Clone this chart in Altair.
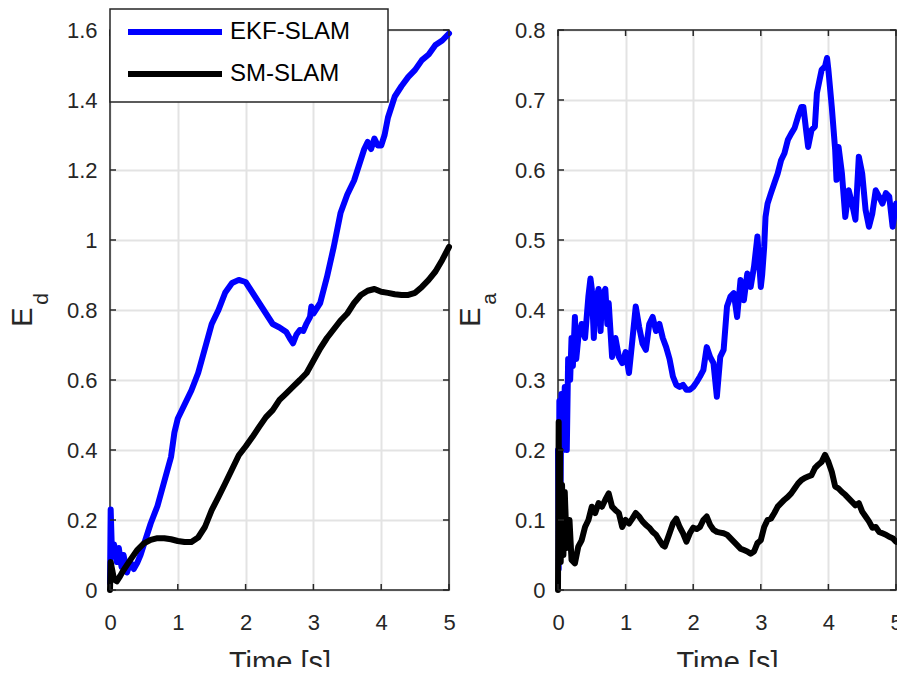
import altair as alt
import pandas as pd

# ---------------- data ----------------
series_names = ["EKF-SLAM", "SM-SLAM"]
series_colors = ["#0000ff", "#000000"]

# Left panel: E_d
t_ekf_d = [0.0, 0.01, 0.03, 0.06, 0.1, 0.13, 0.17, 0.2, 0.25, 0.3, 0.35, 0.4, 0.45,
           0.5, 0.6, 0.7, 0.8, 0.9, 0.95, 1.0, 1.1, 1.2, 1.3, 1.4, 1.5, 1.6, 1.7,
           1.8, 1.9, 2.0, 2.1, 2.2, 2.3, 2.4, 2.5, 2.6, 2.65, 2.7, 2.75, 2.8, 2.85,
           2.9, 2.95, 2.97, 3.0, 3.1, 3.2, 3.3, 3.4, 3.5, 3.6, 3.7, 3.75, 3.8, 3.85,
           3.9, 3.95, 4.0, 4.05, 4.1, 4.2, 4.3, 4.4, 4.5, 4.6, 4.7, 4.8, 4.9, 5.0]
ekf_d = [0.02, 0.23, 0.10, 0.13, 0.08, 0.12, 0.066, 0.10, 0.05, 0.08, 0.06, 0.077, 0.10,
         0.13, 0.19, 0.24, 0.31, 0.38, 0.45, 0.49, 0.53, 0.57, 0.62, 0.69, 0.76, 0.80, 0.85,
         0.877, 0.886, 0.88, 0.85, 0.82, 0.79, 0.76, 0.75, 0.737, 0.72, 0.705, 0.73, 0.743, 0.74,
         0.762, 0.78, 0.81, 0.79, 0.82, 0.894, 0.98, 1.077, 1.13, 1.17, 1.23, 1.26, 1.28, 1.26,
         1.29, 1.27, 1.27, 1.30, 1.35, 1.41, 1.44, 1.466, 1.486, 1.514, 1.53, 1.557, 1.57, 1.59]

t_sm_d = [0.0, 0.01, 0.03, 0.06, 0.1, 0.15, 0.2, 0.3, 0.4, 0.5, 0.6, 0.7, 0.8, 0.9,
          1.0, 1.1, 1.2, 1.3, 1.4, 1.5, 1.6, 1.7, 1.8, 1.9, 2.0, 2.1, 2.2, 2.3, 2.4,
          2.5, 2.6, 2.7, 2.8, 2.9, 3.0, 3.1, 3.2, 3.3, 3.4, 3.5, 3.6, 3.7, 3.8, 3.9,
          4.0, 4.1, 4.2, 4.3, 4.4, 4.5, 4.6, 4.7, 4.8, 4.9, 5.0]
sm_d = [0.0, 0.08, 0.06, 0.03, 0.025, 0.04, 0.057, 0.086, 0.114, 0.133, 0.143, 0.148, 0.148, 0.145,
        0.14, 0.137, 0.137, 0.15, 0.18, 0.228, 0.266, 0.305, 0.345, 0.385, 0.41, 0.437, 0.466, 0.494, 0.514,
        0.543, 0.562, 0.581, 0.60, 0.62, 0.655, 0.69, 0.72, 0.745, 0.77, 0.79, 0.82, 0.843, 0.855, 0.86,
        0.852, 0.849, 0.845, 0.843, 0.843, 0.849, 0.866, 0.886, 0.91, 0.943, 0.98]

# Right panel: E_a
t_ekf_a = [0.0, 0.01, 0.02, 0.03, 0.05, 0.07, 0.1, 0.13, 0.15, 0.18, 0.2, 0.22, 0.25, 0.27,
           0.3, 0.35, 0.4, 0.45, 0.48, 0.5, 0.53, 0.55, 0.6, 0.63, 0.65, 0.7, 0.73, 0.75,
           0.8, 0.85, 0.9, 0.95, 1.0, 1.05, 1.1, 1.15, 1.2, 1.25, 1.3, 1.35, 1.4, 1.45,
           1.5, 1.55, 1.6, 1.65, 1.7, 1.75, 1.8, 1.85, 1.9, 1.95, 2.0, 2.05, 2.1, 2.15,
           2.2, 2.25, 2.3, 2.35, 2.4, 2.45, 2.5, 2.55, 2.6, 2.65, 2.7, 2.75, 2.8, 2.85,
           2.9, 2.95, 3.0, 3.02, 3.05, 3.07, 3.1, 3.15, 3.2, 3.25, 3.3, 3.35, 3.4, 3.45,
           3.5, 3.55, 3.6, 3.63, 3.67, 3.7, 3.75, 3.8, 3.83, 3.87, 3.9, 3.95, 3.98, 4.0,
           4.05, 4.1, 4.12, 4.15, 4.2, 4.25, 4.3, 4.35, 4.4, 4.45, 4.5, 4.55, 4.6, 4.65,
           4.7, 4.75, 4.8, 4.85, 4.9, 4.95, 5.0]
ekf_a = [0.20, 0.03, 0.27, 0.05, 0.28, 0.20, 0.29, 0.20, 0.33, 0.30, 0.36, 0.32, 0.39, 0.33,
         0.36, 0.38, 0.36, 0.42, 0.445, 0.43, 0.36, 0.41, 0.43, 0.37, 0.42, 0.43, 0.38, 0.41,
         0.333, 0.36, 0.333, 0.324, 0.34, 0.31, 0.357, 0.405, 0.376, 0.352, 0.343, 0.38, 0.39, 0.37,
         0.38, 0.36, 0.347, 0.33, 0.305, 0.293, 0.29, 0.293, 0.286, 0.286, 0.29, 0.297, 0.305, 0.314,
         0.347, 0.333, 0.324, 0.276, 0.333, 0.343, 0.405, 0.419, 0.424, 0.39, 0.443, 0.414, 0.452, 0.433,
         0.462, 0.505, 0.433, 0.45, 0.49, 0.533, 0.552, 0.567, 0.581, 0.595, 0.614, 0.624, 0.643, 0.652,
         0.66, 0.676, 0.69, 0.69, 0.657, 0.633, 0.657, 0.662, 0.71, 0.729, 0.743, 0.748, 0.76, 0.743,
         0.69, 0.629, 0.586, 0.633, 0.595, 0.533, 0.571, 0.552, 0.529, 0.619, 0.595, 0.543, 0.519, 0.538,
         0.571, 0.562, 0.552, 0.567, 0.562, 0.519, 0.552]

t_sm_a = [0.0, 0.01, 0.02, 0.03, 0.04, 0.06, 0.08, 0.1, 0.13, 0.17, 0.2, 0.25, 0.3, 0.35,
          0.4, 0.45, 0.5, 0.55, 0.6, 0.65, 0.7, 0.75, 0.8, 0.85, 0.9, 0.95, 1.0, 1.05,
          1.1, 1.15, 1.2, 1.25, 1.3, 1.35, 1.4, 1.45, 1.5, 1.55, 1.58, 1.65, 1.7, 1.75,
          1.8, 1.85, 1.9, 1.95, 2.0, 2.05, 2.1, 2.15, 2.2, 2.25, 2.3, 2.35, 2.4, 2.45,
          2.5, 2.55, 2.6, 2.65, 2.7, 2.75, 2.8, 2.85, 2.9, 2.95, 3.0, 3.05, 3.1, 3.15,
          3.2, 3.25, 3.3, 3.35, 3.4, 3.45, 3.5, 3.55, 3.6, 3.65, 3.7, 3.75, 3.8, 3.85,
          3.9, 3.95, 4.0, 4.05, 4.1, 4.15, 4.2, 4.25, 4.3, 4.35, 4.4, 4.45, 4.5, 4.55,
          4.6, 4.65, 4.7, 4.75, 4.8, 4.85, 4.9, 4.95, 5.0]
sm_a = [0.0, 0.24, 0.05, 0.20, 0.04, 0.15, 0.05, 0.14, 0.06, 0.10, 0.043, 0.038, 0.062, 0.071,
        0.09, 0.10, 0.119, 0.11, 0.124, 0.119, 0.129, 0.138, 0.119, 0.114, 0.11, 0.09, 0.10, 0.095,
        0.102, 0.11, 0.105, 0.098, 0.093, 0.089, 0.083, 0.079, 0.071, 0.064, 0.062, 0.081, 0.095, 0.102,
        0.09, 0.081, 0.069, 0.081, 0.089, 0.087, 0.09, 0.10, 0.105, 0.093, 0.086, 0.083, 0.082, 0.081,
        0.079, 0.074, 0.069, 0.064, 0.059, 0.057, 0.055, 0.052, 0.055, 0.067, 0.071, 0.09, 0.10, 0.102,
        0.11, 0.119, 0.124, 0.129, 0.133, 0.138, 0.145, 0.152, 0.157, 0.16, 0.162, 0.164, 0.174, 0.179,
        0.183, 0.193, 0.183, 0.169, 0.148, 0.145, 0.14, 0.136, 0.131, 0.126, 0.121, 0.124, 0.112, 0.105,
        0.098, 0.089, 0.09, 0.083, 0.081, 0.079, 0.076, 0.074, 0.069]

x_ticks = [0, 1, 2, 3, 4, 5]
y_ticks_d = [0, 0.2, 0.4, 0.6, 0.8, 1.0, 1.2, 1.4, 1.6]
y_ticks_a = [0, 0.1, 0.2, 0.3, 0.4, 0.5, 0.6, 0.7, 0.8]

x_title = "Time [s]"
y_title_main = "E"
y_sub_d = "d"
y_sub_a = "a"

# ---------------- styling ----------------
FONT = "Liberation Sans"
DARK = "#262626"
GRID = "#e3e3e3"
H = 560
LINE_W = 6
W_LEFT = 339
W_RIGHT = 338
GAP = 109
PAD_L, PAD_T = 102, 22
CANVAS_W, CANVAS_H = 889, 658
CROP_Y = 637  # the reference picture is cut just below this (relative to the plot top)


def panel(t1, v1, t2, v2, yticks, ymax, sub, width, with_legend):
    xs = alt.Scale(domain=[0, 5], nice=False)
    ys = alt.Scale(domain=[0, ymax], nice=False)
    x_axis = alt.Axis(values=x_ticks, title=x_title, grid=True, gridColor=GRID, gridWidth=2,
                      domain=False, ticks=False, labelFontSize=22, labelFont=FONT,
                      labelColor=DARK, labelPadding=22, titleFontSize=29, titleFont=FONT,
                      titleFontWeight="normal", titleColor=DARK, titlePadding=15,
                      labelFlush=False, format="~g")
    y_axis = alt.Axis(values=yticks, title=None, grid=True, gridColor=GRID, gridWidth=2,
                      domain=False, ticks=False, labelFontSize=22, labelFont=FONT,
                      labelColor=DARK, labelPadding=13, format="~g", labelFlush=False)

    df1 = pd.DataFrame({"t": t1, "v": v1, "s": series_names[0]})
    df2 = pd.DataFrame({"t": t2, "v": v2, "s": series_names[1]})

    line1 = alt.Chart(df1).mark_line(strokeWidth=LINE_W, strokeJoin="round", strokeCap="round",
                                     color=series_colors[0]).encode(
        x=alt.X("t:Q", scale=xs, axis=x_axis), y=alt.Y("v:Q", scale=ys, axis=y_axis))
    line2 = alt.Chart(df2).mark_line(strokeWidth=LINE_W, strokeJoin="round", strokeCap="round",
                                     color=series_colors[1]).encode(
        x=alt.X("t:Q", scale=xs), y=alt.Y("v:Q", scale=ys))

    one = pd.DataFrame({"k": [0]})
    box = alt.Chart(one).mark_rect(fillOpacity=0, stroke=DARK, strokeWidth=1.5).encode(
        x=alt.value(0), x2=alt.value(width), y=alt.value(0), y2=alt.value(H))

    xt = pd.DataFrame({"t": x_ticks})
    yt = pd.DataFrame({"v": yticks})
    tick_b = alt.Chart(xt).mark_rule(color=DARK, strokeWidth=1.5).encode(
        x=alt.X("t:Q", scale=xs), y=alt.value(H), y2=alt.value(H - 6))
    tick_t = alt.Chart(xt).mark_rule(color=DARK, strokeWidth=1.5).encode(
        x=alt.X("t:Q", scale=xs), y=alt.value(0), y2=alt.value(6))
    tick_l = alt.Chart(yt).mark_rule(color=DARK, strokeWidth=1.5).encode(
        y=alt.Y("v:Q", scale=ys), x=alt.value(0), x2=alt.value(6))
    tick_r = alt.Chart(yt).mark_rule(color=DARK, strokeWidth=1.5).encode(
        y=alt.Y("v:Q", scale=ys), x=alt.value(width - 6), x2=alt.value(width))

    e_txt = alt.Chart(pd.DataFrame({"s": [y_title_main]})).mark_text(
        angle=270, fontSize=29, font=FONT, color=DARK, align="center", baseline="alphabetic").encode(
        text="s:N", x=alt.value(-78), y=alt.value(287))
    sub_txt = alt.Chart(pd.DataFrame({"s": [sub]})).mark_text(
        angle=270, fontSize=21, font=FONT, color=DARK, align="center", baseline="alphabetic").encode(
        text="s:N", x=alt.value(-62), y=alt.value(269))

    # white band reproducing the crop at the bottom edge of the reference picture
    crop = alt.Chart(one).mark_rect(fill="white", stroke=None).encode(
        x=alt.value(-115), x2=alt.value(width + 15), y=alt.value(CROP_Y), y2=alt.value(CROP_Y + 40))

    layers = [box, line1, line2, tick_b, tick_t, tick_l, tick_r, e_txt, sub_txt, crop]

    if with_legend:
        leg_box = alt.Chart(one).mark_rect(fill="white", stroke=DARK, strokeWidth=1.5).encode(
            x=alt.value(0), x2=alt.value(278), y=alt.value(-21), y2=alt.value(72))
        leg_l1 = alt.Chart(one).mark_rule(color=series_colors[0], strokeWidth=LINE_W).encode(
            x=alt.value(18), x2=alt.value(112), y=alt.value(2))
        leg_l2 = alt.Chart(one).mark_rule(color=series_colors[1], strokeWidth=LINE_W).encode(
            x=alt.value(18), x2=alt.value(112), y=alt.value(44))
        leg_t1 = alt.Chart(pd.DataFrame({"s": [series_names[0]]})).mark_text(
            fontSize=24, font=FONT, color="#000000", align="left", baseline="middle").encode(
            text="s:N", x=alt.value(120), y=alt.value(2))
        leg_t2 = alt.Chart(pd.DataFrame({"s": [series_names[1]]})).mark_text(
            fontSize=24, font=FONT, color="#000000", align="left", baseline="middle").encode(
            text="s:N", x=alt.value(120), y=alt.value(44))
        layers += [leg_box, leg_l1, leg_l2, leg_t1, leg_t2]

    return alt.layer(*layers).properties(width=width, height=H)


left = panel(t_ekf_d, ekf_d, t_sm_d, sm_d, y_ticks_d, 1.6, y_sub_d, W_LEFT, True)
right = panel(t_ekf_a, ekf_a, t_sm_a, sm_a, y_ticks_a, 0.8, y_sub_a, W_RIGHT, False)

# fixed-size canvas; the layout does not grow with overflowing labels
chart = alt.hconcat(left, right, spacing=GAP, bounds="flush").properties(
    autosize=alt.AutoSizeParams(type="none"),
    padding={"left": PAD_L, "top": PAD_T, "right": CANVAS_W - PAD_L, "bottom": CANVAS_H - PAD_T},
).configure_view(stroke=None).configure(background="white")

chart.save("out.html", embed_options={"renderer": "svg", "actions": False})
